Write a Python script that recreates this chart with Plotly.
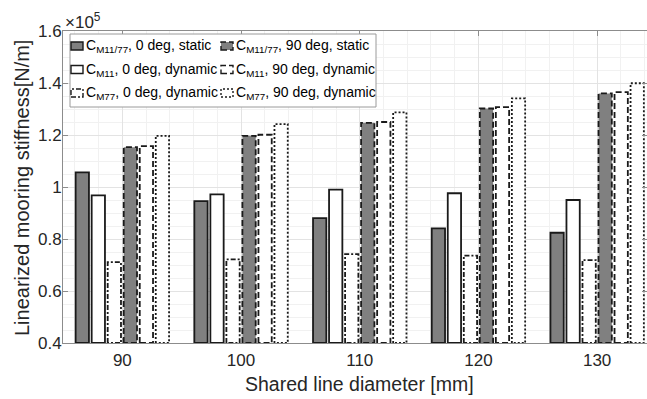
import plotly.graph_objects as go

# Shared line diameter [mm]
diameters = [90, 100, 110, 120, 130]

# Linearized mooring stiffness [N/m]
static_0deg = [1.056e5, 0.946e5, 0.880e5, 0.841e5, 0.824e5]
m11_0deg_dyn = [0.968e5, 0.972e5, 0.990e5, 0.976e5, 0.950e5]
m77_0deg_dyn = [0.711e5, 0.722e5, 0.742e5, 0.736e5, 0.719e5]
static_90deg = [1.153e5, 1.197e5, 1.247e5, 1.302e5, 1.360e5]
m11_90deg_dyn = [1.157e5, 1.201e5, 1.250e5, 1.307e5, 1.365e5]
m77_90deg_dyn = [1.197e5, 1.242e5, 1.287e5, 1.341e5, 1.399e5]

series_labels = [
    "C<sub>M11/77</sub>, 0 deg, static",
    "C<sub>M11</sub>, 0 deg, dynamic",
    "C<sub>M77</sub>, 0 deg, dynamic",
    "C<sub>M11/77</sub>, 90 deg, static",
    "C<sub>M11</sub>, 90 deg, dynamic",
    "C<sub>M77</sub>, 90 deg, dynamic",
]

y_tick_values = [0.4e5, 0.6e5, 0.8e5, 1.0e5, 1.2e5, 1.4e5, 1.6e5]
y_tick_labels = ["0.4", "0.6", "0.8", "1", "1.2", "1.4", "1.6"]

series_values = [static_0deg, m11_0deg_dyn, m77_0deg_dyn,
                 static_90deg, m11_90deg_dyn, m77_90deg_dyn]

# styling
FONT = "Liberation Sans, Arial, Helvetica, sans-serif"
TEXT = "#262626"
EDGE = "#1a1a1a"
GREY = "#808080"
fills = [GREY, "white", "white", GREY, "white", "white"]
dashes = ["solid", "solid", "5px,2px,2px,2px", "6px,3px", "6px,3px", "2px,2px"]
edge_width = 1.8

W, H = 647, 399
ML, MR, MT, MB = 63, 0, 31, 56
y_min, y_max = 0.4e5, 1.6e5
x_range = [85.0, 134.2]

pitch = 1.35    # distance between neighbouring bars in a group (mm units)
bar_w = 1.12    # bar width (mm units)

fig = go.Figure()

n = len(series_values)
for i, vals in enumerate(series_values):
    shift = (i - (n - 1) / 2) * pitch
    fig.add_bar(
        x=diameters, y=vals,
        offset=shift - bar_w / 2, width=bar_w,
        marker=dict(color=fills[i], line=dict(width=0)),
        showlegend=False, hoverinfo="skip",
    )
    xs, ys = [], []
    for d, v in zip(diameters, vals):
        x0 = d + shift - bar_w / 2
        x1 = x0 + bar_w
        xs += [x0, x0, x1, x1, x0, None]
        ys += [y_min, v, v, y_min, y_min, None]
    fig.add_scatter(
        x=xs, y=ys, mode="lines",
        line=dict(color=EDGE, width=edge_width, dash=dashes[i]),
        showlegend=False, hoverinfo="skip",
    )

# pixel -> paper helpers for the legend box
pw = W - ML - MR
ph = H - MT - MB


def px(xp):
    return (xp - ML) / pw


def py(yp):
    return (H - MB - yp) / ph


shapes = []
annotations = []

# legend box
shapes.append(dict(type="rect", xref="paper", yref="paper",
                   x0=px(70), x1=px(376), y0=py(107), y1=py(34),
                   fillcolor="white", line=dict(color="#9a9a9a", width=1),
                   layer="above"))

legend_order = [0, 3, 1, 4, 2, 5]
row_y = [46, 69.5, 93]
col_icon_x = [71, 221]
col_text_x = [84, 234]
for k, s in enumerate(legend_order):
    r, c = divmod(k, 2)
    cy = row_y[r]
    shapes.append(dict(type="rect", xref="paper", yref="paper",
                       x0=px(col_icon_x[c]), x1=px(col_icon_x[c] + 12),
                       y0=py(cy + 4), y1=py(cy - 4),
                       fillcolor=fills[s],
                       line=dict(color=EDGE, width=1.4, dash=dashes[s]),
                       layer="above"))
    annotations.append(dict(xref="paper", yref="paper",
                            x=px(col_text_x[c]), y=py(cy),
                            xanchor="left", yanchor="middle",
                            text=series_labels[s], showarrow=False,
                            font=dict(family=FONT, size=14, color="black")))

# exponent marker and axis titles
annotations.append(dict(xref="paper", yref="paper", x=px(63), y=py(21),
                        xanchor="left", yanchor="middle",
                        text="×10<sup>5</sup>", showarrow=False,
                        font=dict(family=FONT, size=17, color=TEXT)))
annotations.append(dict(xref="paper", yref="paper", x=px(22), y=py(188),
                        xanchor="center", yanchor="middle", textangle=-90,
                        text="Linearized mooring stiffness[N/m]", showarrow=False,
                        font=dict(family=FONT, size=20, color=TEXT)))
annotations.append(dict(xref="paper", yref="paper", x=px(359), y=py(384),
                        xanchor="center", yanchor="middle",
                        text="Shared line diameter [mm]", showarrow=False,
                        font=dict(family=FONT, size=19.5, color=TEXT)))

fig.update_layout(
    width=W, height=H,
    margin=dict(l=ML, r=MR, t=MT, b=MB, pad=0),
    paper_bgcolor="white", plot_bgcolor="white",
    barmode="overlay",
    showlegend=False,
    shapes=shapes, annotations=annotations,
    font=dict(family=FONT, color=TEXT),
)

fig.update_xaxes(
    range=x_range, tickvals=diameters, ticktext=[str(d) for d in diameters],
    showline=True, linecolor="#8c8c8c", linewidth=1, mirror="ticks",
    ticks="inside", ticklen=5, tickcolor="#8c8c8c",
    showgrid=True, gridcolor="#e3e3e3", gridwidth=1,
    minor=dict(tick0=90, dtick=2, showgrid=True, gridcolor="#f1f1f1", ticks=""),
    tickfont=dict(family=FONT, size=17, color=TEXT),
    ticklabelstandoff=2,
    zeroline=False, automargin=False,
)
fig.update_yaxes(
    range=[y_min, y_max], tickvals=y_tick_values, ticktext=y_tick_labels,
    showline=True, linecolor="#8c8c8c", linewidth=1, mirror="ticks",
    ticks="inside", ticklen=5, tickcolor="#8c8c8c",
    showgrid=True, gridcolor="#e3e3e3", gridwidth=1,
    minor=dict(tick0=0, dtick=0.05e5, showgrid=True, gridcolor="#f1f1f1", ticks=""),
    tickfont=dict(family=FONT, size=17, color=TEXT),
    ticklabelstandoff=-3,
    zeroline=False, automargin=False,
)

fig.write_html("out.html")
